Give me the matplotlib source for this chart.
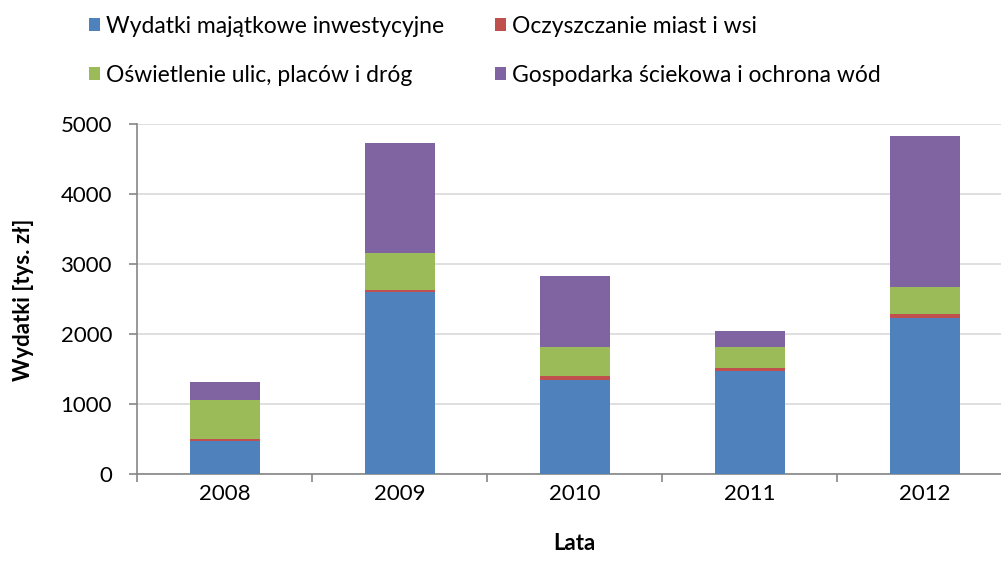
import numpy as np
import matplotlib
matplotlib.use("Agg")
import matplotlib.pyplot as plt

plt.rcParams['font.family'] = ['Lato', 'DejaVu Sans']

# data (tys. zl)
years = ["2008", "2009", "2010", "2011", "2012"]
inwestycyjne = [465, 2600, 1350, 1465, 2225]
oczyszczanie = [33, 33, 45, 43, 55]
oswietlenie = [555, 526, 425, 313, 385]
sciekowa = [256, 1565, 1010, 227, 2170]

series = [
    ("Wydatki majątkowe inwestycyjne", inwestycyjne, "#4F81BD"),
    ("Oczyszczanie miast i wsi", oczyszczanie, "#C0504D"),
    ("Oświetlenie ulic, placów i dróg", oswietlenie, "#9BBB59"),
    ("Gospodarka ściekowa i ochrona wód", sciekowa, "#8064A2"),
]

W, H = 1001, 579
fig = plt.figure(figsize=(W / 100, H / 100), dpi=100)
ax = fig.add_axes([137 / W, 105 / H, 875 / W, 350 / H])

x = np.arange(len(years))
bottom = np.zeros(len(years))
handles = []
for label, vals, color in series:
    b = ax.bar(x, vals, width=0.4, bottom=bottom, color=color, label=label, zorder=3)
    handles.append(b)
    bottom += np.array(vals)

ax.set_xlim(-0.5, 4.5)
ax.set_ylim(0, 5000)
ax.set_yticks(np.arange(0, 5001, 1000))
ax.yaxis.grid(True, color="#D9D9D9", linewidth=1.2, zorder=0)
ax.set_axisbelow(True)

for s in ["top", "right"]:
    ax.spines[s].set_visible(False)
for s in ["left", "bottom"]:
    ax.spines[s].set_color("#868686")
    ax.spines[s].set_linewidth(1.2)

fs = 16
ax.set_xticks(x)
ax.set_xticklabels(years)
ax.set_xticks(np.arange(-0.5, 5, 1), minor=True)
ax.tick_params(axis="x", which="major", length=0, pad=7, labelsize=fs)
ax.tick_params(axis="x", which="minor", length=6, direction="out", color="#868686", width=1.2)
ax.tick_params(axis="y", length=6, direction="out", color="#868686", width=1.2, pad=12, labelsize=fs)

fig.text(24 / W, 1 - 300 / H, "Wydatki [tys. zł]", rotation=90, ha="center", va="center",
         fontsize=fs, fontweight="bold")
fig.text(574 / W, 1 - 544 / H, "Lata", ha="center", va="center", fontsize=fs, fontweight="bold")

lfs = 16.5
order = [0, 2, 1, 3]
fig.legend([handles[i] for i in order], [series[i][0] for i in order],
           ncol=2, loc="upper left", bbox_to_anchor=(89 / W, 1 - 16 / H),
           frameon=False, fontsize=lfs, handlelength=0.5, handleheight=0.5,
           handletextpad=0.25, columnspacing=2.2, labelspacing=1.2,
           borderpad=0, borderaxespad=0)

fig.savefig("out.png", dpi=100)
